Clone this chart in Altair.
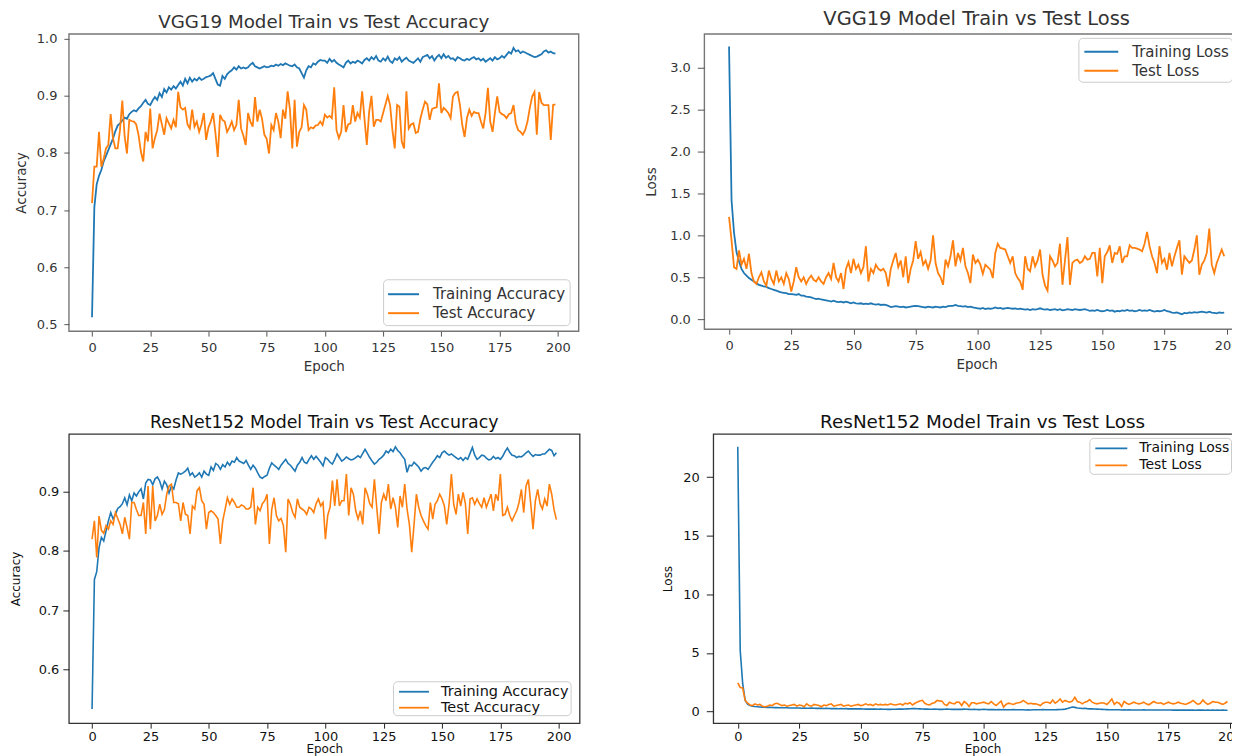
import altair as alt
import pandas as pd

epochs = list(range(200))

vgg_train_acc = [
    0.512, 0.705, 0.745, 0.760, 0.770, 0.785, 0.795, 0.805, 0.815, 0.825,
    0.838, 0.848, 0.852, 0.857, 0.862, 0.860, 0.868, 0.872, 0.875, 0.873,
    0.878, 0.882, 0.888, 0.893, 0.886, 0.884, 0.892, 0.898, 0.893, 0.905,
    0.898, 0.912, 0.906, 0.915, 0.911, 0.917, 0.913, 0.919, 0.925, 0.918,
    0.930, 0.922, 0.932, 0.925, 0.930, 0.927, 0.932, 0.928, 0.930, 0.933,
    0.934, 0.936, 0.940, 0.930, 0.920, 0.918, 0.935, 0.930, 0.938, 0.942,
    0.945, 0.950, 0.946, 0.952, 0.948, 0.950, 0.948, 0.950, 0.955, 0.958,
    0.952, 0.950, 0.948, 0.950, 0.952, 0.950, 0.951, 0.953, 0.952, 0.955,
    0.953, 0.956, 0.954, 0.957, 0.955, 0.953, 0.952, 0.955, 0.950, 0.948,
    0.940, 0.932, 0.945, 0.952, 0.950, 0.957, 0.955, 0.960, 0.963, 0.962,
    0.962, 0.958, 0.965, 0.960, 0.963, 0.958, 0.955, 0.953, 0.950, 0.958,
    0.962, 0.957, 0.960, 0.958, 0.962, 0.960, 0.957, 0.963, 0.966, 0.962,
    0.968, 0.964, 0.970, 0.962, 0.960, 0.966, 0.962, 0.969, 0.961, 0.958,
    0.966, 0.963, 0.968, 0.960, 0.964, 0.967, 0.962, 0.960, 0.958, 0.962,
    0.966, 0.960, 0.968, 0.970, 0.972, 0.966, 0.970, 0.962, 0.968, 0.972,
    0.966, 0.973, 0.967, 0.970, 0.965, 0.966, 0.962, 0.968, 0.966, 0.963,
    0.962, 0.965, 0.963, 0.966, 0.968, 0.964, 0.966, 0.962, 0.965, 0.960,
    0.963, 0.966, 0.962, 0.968, 0.964, 0.966, 0.970, 0.967, 0.972, 0.977,
    0.974, 0.984, 0.978, 0.980, 0.975, 0.978, 0.976, 0.974, 0.972, 0.970,
    0.968, 0.969, 0.971, 0.973, 0.978, 0.980, 0.976, 0.978, 0.975, 0.974,
]

vgg_test_acc = [
    0.712, 0.776, 0.776, 0.837, 0.776, 0.790, 0.808, 0.814, 0.868, 0.826,
    0.808, 0.808, 0.840, 0.892, 0.830, 0.799, 0.858, 0.856, 0.855, 0.850,
    0.831, 0.802, 0.785, 0.837, 0.820, 0.878, 0.808, 0.826, 0.840, 0.869,
    0.850, 0.832, 0.861, 0.852, 0.843, 0.858, 0.845, 0.907, 0.880, 0.876,
    0.879, 0.850, 0.843, 0.876, 0.846, 0.855, 0.837, 0.850, 0.870, 0.823,
    0.845, 0.855, 0.870, 0.835, 0.793, 0.867, 0.858, 0.855, 0.837, 0.845,
    0.855, 0.840, 0.849, 0.893, 0.843, 0.830, 0.814, 0.870, 0.855, 0.846,
    0.898, 0.855, 0.876, 0.860, 0.832, 0.825, 0.799, 0.849, 0.840, 0.870,
    0.855, 0.826, 0.876, 0.860, 0.908, 0.876, 0.808, 0.893, 0.811, 0.837,
    0.845, 0.884, 0.876, 0.840, 0.845, 0.843, 0.848, 0.849, 0.855, 0.849,
    0.867, 0.862, 0.865, 0.861, 0.915, 0.840, 0.826, 0.837, 0.884, 0.837,
    0.850, 0.852, 0.884, 0.855, 0.870, 0.862, 0.908, 0.860, 0.814, 0.872,
    0.900, 0.846, 0.858, 0.858, 0.855, 0.870, 0.885, 0.900, 0.884, 0.840,
    0.808, 0.884, 0.881, 0.820, 0.808, 0.908, 0.843, 0.850, 0.852, 0.835,
    0.837, 0.860, 0.876, 0.890, 0.885, 0.858, 0.877, 0.879, 0.880, 0.922,
    0.870, 0.879, 0.875, 0.870, 0.861, 0.899, 0.905, 0.907, 0.884, 0.849,
    0.828, 0.861, 0.876, 0.865, 0.872, 0.870, 0.870, 0.855, 0.843, 0.870,
    0.914, 0.855, 0.837, 0.870, 0.899, 0.872, 0.868, 0.866, 0.861, 0.868,
    0.870, 0.884, 0.852, 0.840, 0.837, 0.832, 0.840, 0.855, 0.879, 0.899,
    0.907, 0.832, 0.907, 0.888, 0.884, 0.884, 0.884, 0.823, 0.884, 0.885,
]

vgg_train_loss = [
    3.25, 1.42, 1.03, 0.80, 0.69, 0.60, 0.55, 0.52, 0.49, 0.47,
    0.45, 0.43, 0.41, 0.40, 0.39, 0.385, 0.37, 0.36, 0.35, 0.34,
    0.33, 0.32, 0.315, 0.31, 0.30, 0.30, 0.295, 0.29, 0.30, 0.28,
    0.28, 0.27, 0.265, 0.26, 0.25, 0.24, 0.245, 0.235, 0.23, 0.225,
    0.22, 0.21, 0.22, 0.21, 0.205, 0.21, 0.20, 0.21, 0.20, 0.19,
    0.20, 0.19, 0.185, 0.19, 0.18, 0.185, 0.18, 0.19, 0.18, 0.175,
    0.18, 0.17, 0.175, 0.17, 0.16, 0.145, 0.15, 0.155, 0.15, 0.145,
    0.15, 0.14, 0.145, 0.15, 0.155, 0.16, 0.155, 0.15, 0.145, 0.14,
    0.15, 0.145, 0.14, 0.15, 0.145, 0.14, 0.15, 0.145, 0.155, 0.16,
    0.16, 0.17, 0.16, 0.155, 0.15, 0.155, 0.145, 0.15, 0.14, 0.135,
    0.13, 0.125, 0.135, 0.12, 0.13, 0.125, 0.13, 0.14, 0.13, 0.135,
    0.125, 0.13, 0.135, 0.13, 0.125, 0.13, 0.12, 0.125, 0.12, 0.115,
    0.12, 0.11, 0.12, 0.115, 0.12, 0.13, 0.12, 0.115, 0.12, 0.11,
    0.115, 0.12, 0.11, 0.12, 0.105, 0.11, 0.12, 0.115, 0.11, 0.12,
    0.115, 0.11, 0.115, 0.12, 0.11, 0.10, 0.105, 0.10, 0.11, 0.10,
    0.095, 0.10, 0.11, 0.10, 0.105, 0.09, 0.10, 0.095, 0.105, 0.10,
    0.11, 0.10, 0.105, 0.095, 0.10, 0.11, 0.10, 0.105, 0.10, 0.11,
    0.10, 0.09, 0.10, 0.095, 0.10, 0.11, 0.095, 0.09, 0.08, 0.075,
    0.08, 0.07, 0.06, 0.075, 0.07, 0.08, 0.075, 0.085, 0.08, 0.085,
    0.09, 0.085, 0.08, 0.09, 0.08, 0.075, 0.07, 0.08, 0.075, 0.08,
]

vgg_test_loss = [
    1.22, 0.94, 0.62, 0.60, 0.82, 0.65, 0.72, 0.60, 0.78, 0.55,
    0.45, 0.42, 0.50, 0.56, 0.45, 0.40, 0.58, 0.48, 0.42, 0.58,
    0.45, 0.50, 0.42, 0.55, 0.48, 0.33, 0.45, 0.62, 0.50, 0.45,
    0.50, 0.42, 0.48, 0.52, 0.47, 0.45, 0.50, 0.45, 0.42, 0.50,
    0.55, 0.48, 0.67, 0.50, 0.45, 0.55, 0.36, 0.60, 0.68, 0.55,
    0.72, 0.60, 0.65, 0.55, 0.62, 0.87, 0.45, 0.60, 0.55, 0.65,
    0.60, 0.58, 0.60, 0.55, 0.39, 0.60, 0.70, 0.79, 0.62, 0.70,
    0.50, 0.75, 0.43, 0.60, 0.70, 0.93, 0.72, 0.80, 0.65, 0.70,
    0.60, 0.70, 1.00, 0.67, 0.55, 0.50, 0.41, 0.71, 0.63, 0.75,
    0.94, 0.63, 0.79, 0.70, 0.85, 0.63, 0.55, 0.43, 0.77, 0.67,
    0.71, 0.65, 0.54, 0.65, 0.62, 0.59, 0.49, 0.79, 0.90, 0.85,
    0.84, 0.83, 0.75, 0.67, 0.75, 0.55, 0.49, 0.45, 0.35, 0.75,
    0.60, 0.57, 0.75, 0.63, 0.70, 0.83, 0.53, 0.40, 0.34, 0.75,
    0.70, 0.63, 0.67, 0.90, 0.41, 0.70, 0.98, 0.41, 0.67, 0.70,
    0.71, 0.67, 0.69, 0.75, 0.71, 0.72, 0.79, 0.79, 0.51, 0.85,
    0.43, 0.75, 0.80, 0.88, 0.67, 0.79, 0.78, 0.87, 0.67, 0.75,
    0.75, 0.88, 0.85, 0.85, 0.84, 0.83, 0.81, 0.90, 1.04, 0.87,
    0.75, 0.67, 0.55, 0.87, 0.67, 0.72, 0.59, 0.79, 0.63, 0.75,
    0.85, 0.94, 0.53, 0.75, 0.71, 0.67, 0.70, 0.83, 1.00, 0.53,
    0.65, 0.70, 0.79, 1.08, 0.65, 0.55, 0.67, 0.75, 0.83, 0.75,
]

res_train_acc = [
    0.533, 0.752, 0.765, 0.806, 0.823, 0.817, 0.834, 0.851, 0.865, 0.854,
    0.862, 0.872, 0.875, 0.880, 0.890, 0.878, 0.895, 0.885, 0.898, 0.893,
    0.900, 0.905, 0.888, 0.915, 0.921, 0.920, 0.912, 0.922, 0.925, 0.918,
    0.905, 0.918, 0.912, 0.898, 0.910, 0.905, 0.920, 0.932, 0.930, 0.932,
    0.935, 0.940, 0.928, 0.932, 0.925, 0.928, 0.932, 0.925, 0.935, 0.930,
    0.928, 0.942, 0.936, 0.948, 0.945, 0.938, 0.946, 0.942, 0.950, 0.945,
    0.952, 0.950, 0.958, 0.952, 0.950, 0.948, 0.953, 0.945, 0.938, 0.945,
    0.940, 0.932, 0.925, 0.923, 0.926, 0.928, 0.940, 0.949, 0.945, 0.942,
    0.938, 0.945, 0.950, 0.955, 0.948, 0.945, 0.940, 0.935, 0.945, 0.950,
    0.958, 0.950, 0.948, 0.955, 0.961, 0.955, 0.960, 0.955, 0.950, 0.944,
    0.958, 0.955, 0.950, 0.947, 0.955, 0.964, 0.958, 0.952, 0.955, 0.959,
    0.956, 0.954, 0.955, 0.958, 0.961, 0.958, 0.965, 0.972, 0.965, 0.958,
    0.952, 0.947, 0.950, 0.955, 0.958, 0.962, 0.969, 0.966, 0.972, 0.968,
    0.976, 0.970, 0.966, 0.960, 0.955, 0.933, 0.945, 0.944, 0.950, 0.946,
    0.942, 0.935, 0.940, 0.941, 0.938, 0.944, 0.950, 0.955, 0.961, 0.958,
    0.966, 0.969, 0.965, 0.962, 0.964, 0.961, 0.958, 0.955, 0.958, 0.953,
    0.958, 0.955, 0.965, 0.975, 0.962, 0.955, 0.958, 0.962, 0.961, 0.957,
    0.954, 0.955, 0.960, 0.956, 0.958, 0.955, 0.960, 0.968, 0.974, 0.967,
    0.962, 0.961, 0.958, 0.960, 0.959, 0.962, 0.966, 0.969, 0.964, 0.960,
    0.963, 0.962, 0.962, 0.964, 0.964, 0.968, 0.972, 0.970, 0.961, 0.966,
]

res_test_acc = [
    0.820, 0.851, 0.789, 0.859, 0.835, 0.830, 0.843, 0.837, 0.851, 0.845,
    0.865, 0.855, 0.845, 0.829, 0.857, 0.840, 0.820, 0.882, 0.882, 0.870,
    0.860, 0.860, 0.882, 0.829, 0.910, 0.837, 0.910, 0.851, 0.860, 0.879,
    0.862, 0.870, 0.896, 0.910, 0.913, 0.882, 0.882, 0.880, 0.851, 0.882,
    0.862, 0.860, 0.829, 0.876, 0.871, 0.902, 0.907, 0.885, 0.879, 0.837,
    0.865, 0.868, 0.865, 0.860, 0.854, 0.812, 0.851, 0.870, 0.890, 0.879,
    0.888, 0.882, 0.874, 0.874, 0.878, 0.876, 0.871, 0.871, 0.874, 0.907,
    0.845, 0.874, 0.868, 0.880, 0.885, 0.896, 0.812, 0.870, 0.890, 0.860,
    0.851, 0.855, 0.843, 0.798, 0.888, 0.879, 0.865, 0.857, 0.888, 0.874,
    0.871, 0.868, 0.862, 0.874, 0.871, 0.865, 0.880, 0.888, 0.876, 0.882,
    0.820, 0.860, 0.874, 0.919, 0.876, 0.921, 0.876, 0.885, 0.885, 0.930,
    0.860, 0.907, 0.896, 0.868, 0.854, 0.868, 0.845, 0.907, 0.896, 0.880,
    0.874, 0.921, 0.874, 0.829, 0.882, 0.896, 0.885, 0.913, 0.871, 0.890,
    0.874, 0.840, 0.893, 0.874, 0.913, 0.871, 0.845, 0.798, 0.845, 0.896,
    0.874, 0.860, 0.851, 0.843, 0.837, 0.882, 0.854, 0.879, 0.885, 0.896,
    0.888, 0.876, 0.845, 0.879, 0.930, 0.879, 0.862, 0.896, 0.876, 0.899,
    0.880, 0.829, 0.888, 0.890, 0.879, 0.888, 0.880, 0.874, 0.890, 0.874,
    0.885, 0.896, 0.868, 0.896, 0.885, 0.930, 0.860, 0.862, 0.874, 0.860,
    0.851, 0.860, 0.868, 0.882, 0.904, 0.865, 0.910, 0.921, 0.880, 0.837,
    0.885, 0.904, 0.880, 0.871, 0.888, 0.876, 0.913, 0.896, 0.870, 0.853,
]

res_train_loss = [
    22.6, 5.2, 2.4, 0.95, 0.62, 0.50, 0.45, 0.42, 0.40, 0.38,
    0.37, 0.36, 0.35, 0.35, 0.34, 0.33, 0.33, 0.32, 0.32, 0.31,
    0.31, 0.30, 0.30, 0.29, 0.30, 0.29, 0.28, 0.29, 0.28, 0.27,
    0.28, 0.27, 0.26, 0.27, 0.26, 0.25, 0.26, 0.25, 0.24, 0.25,
    0.24, 0.23, 0.24, 0.23, 0.24, 0.22, 0.23, 0.22, 0.23, 0.22,
    0.22, 0.21, 0.20, 0.21, 0.20, 0.21, 0.20, 0.19, 0.20, 0.19,
    0.19, 0.18, 0.18, 0.19, 0.19, 0.20, 0.21, 0.20, 0.21, 0.22,
    0.23, 0.24, 0.24, 0.23, 0.22, 0.21, 0.20, 0.20, 0.19, 0.19,
    0.20, 0.19, 0.18, 0.18, 0.19, 0.20, 0.19, 0.18, 0.19, 0.18,
    0.19, 0.18, 0.20, 0.19, 0.18, 0.17, 0.18, 0.17, 0.16, 0.17,
    0.18, 0.17, 0.16, 0.17, 0.16, 0.15, 0.16, 0.15, 0.16, 0.15,
    0.14, 0.15, 0.16, 0.15, 0.14, 0.15, 0.14, 0.13, 0.14, 0.13,
    0.14, 0.15, 0.14, 0.15, 0.16, 0.15, 0.14, 0.15, 0.14, 0.15,
    0.16, 0.17, 0.18, 0.20, 0.25, 0.32, 0.38, 0.35, 0.30, 0.28,
    0.25, 0.27, 0.24, 0.22, 0.23, 0.21, 0.20, 0.19, 0.18, 0.17,
    0.16, 0.15, 0.15, 0.14, 0.15, 0.14, 0.13, 0.14, 0.13, 0.14,
    0.13, 0.12, 0.13, 0.12, 0.13, 0.14, 0.13, 0.12, 0.13, 0.12,
    0.13, 0.12, 0.13, 0.12, 0.12, 0.13, 0.12, 0.11, 0.12, 0.11,
    0.12, 0.11, 0.12, 0.11, 0.12, 0.11, 0.10, 0.11, 0.12, 0.11,
    0.10, 0.11, 0.10, 0.11, 0.10, 0.11, 0.10, 0.11, 0.10, 0.10,
]

res_test_loss = [
    2.45, 2.05, 2.00, 0.95, 0.70, 0.55, 0.50, 0.65, 0.55, 0.60,
    0.45, 0.40, 0.45, 0.55, 0.50, 0.65, 0.70, 0.60, 0.50, 0.55,
    0.45, 0.50, 0.55, 0.60, 0.45, 0.55, 0.50, 0.40, 0.65, 0.50,
    0.45, 0.60, 0.55, 0.50, 0.40, 0.55, 0.50, 0.60, 0.65, 0.45,
    0.50, 0.55, 0.60, 0.45, 0.50, 0.55, 0.45, 0.50, 0.55, 0.60,
    0.50, 0.55, 0.65, 0.55, 0.60, 0.50, 0.65, 0.55, 0.60, 0.55,
    0.60, 0.55, 0.65, 0.60, 0.55, 0.60, 0.65, 0.55, 0.70, 0.65,
    0.75, 0.55, 0.70, 0.80, 0.90, 0.95, 0.70, 0.60, 0.55, 0.70,
    0.75, 0.94, 0.90, 0.88, 0.60, 0.51, 0.79, 0.70, 0.65, 0.80,
    0.79, 0.51, 0.85, 0.70, 0.43, 0.74, 0.74, 0.65, 0.70, 0.75,
    0.79, 0.70, 0.65, 0.85, 0.65, 0.51, 0.70, 0.88, 0.37, 0.60,
    0.71, 0.65, 0.60, 0.70, 0.75, 0.79, 0.94, 0.80, 0.65, 0.70,
    0.65, 0.65, 0.60, 0.51, 0.70, 0.79, 0.79, 0.70, 0.97, 0.71,
    0.85, 1.06, 0.79, 0.94, 0.85, 0.79, 0.90, 1.21, 0.85, 0.79,
    0.65, 0.79, 0.85, 1.01, 0.79, 0.70, 0.65, 0.70, 0.74, 0.70,
    0.60, 0.80, 1.06, 0.60, 0.79, 0.70, 0.43, 0.85, 0.70, 0.60,
    0.70, 0.79, 0.70, 0.65, 0.70, 0.79, 0.65, 0.57, 0.70, 0.85,
    0.75, 0.70, 0.74, 0.60, 0.70, 0.79, 0.70, 0.65, 0.70, 0.79,
    0.70, 0.65, 0.60, 0.70, 0.79, 0.94, 0.75, 0.60, 0.70, 0.97,
    0.75, 0.60, 0.70, 0.85, 0.80, 0.79, 0.70, 0.60, 0.70, 0.85,
]

for arr in [vgg_train_acc, vgg_test_acc, vgg_train_loss, vgg_test_loss,
            res_train_acc, res_test_acc, res_train_loss, res_test_loss]:
    assert len(arr) == 200, len(arr)

x_ticks = [0, 25, 50, 75, 100, 125, 150, 175, 200]
BLUE = "#1f77b4"
ORANGE = "#ff7f0e"
FONT = "DejaVu Sans"
X_DOMAIN = [-9.95, 208.95]

VGG = dict(tick=5, tickc="#555", lab=13, ttl=13.5,
           txt="#333", frame="#777", fw=1.4, lw=1.8, xlp=5, xtp=5.5)
RES = dict(tick=5, tickc="#222", lab=13, ttl=12,
           txt="#111", frame="#333", fw=1.3, lw=1.6, xlp=2, xtp=0)


def panel(train, test, names, title, ytitle, ydomain, yvalues, yformat,
          width, height, leg, s, ylp, ytp, ytick, title_off, title_size):
    df = pd.DataFrame({
        "Epoch": epochs + epochs,
        "value": train + test,
        "series": [names[0]] * len(train) + [names[1]] * len(test),
    })
    legend = alt.Legend(
        orient="none", legendX=leg["x"], legendY=leg["y"], title=None,
        direction="vertical", symbolType=leg["path"], symbolSize=leg["size"],
        symbolStrokeWidth=s["lw"] + 0.2, labelOffset=leg["off"],
        labelFont=FONT, labelFontSize=leg["font"], labelColor=s["txt"],
        padding=leg["pad"], rowPadding=0, strokeColor="#cccccc",
        fillColor="rgba(255,255,255,0.85)", cornerRadius=4, labelLimit=300,
    )
    color = alt.Color("series:N", scale=alt.Scale(domain=names, range=[BLUE, ORANGE]),
                      legend=legend)
    x = alt.X("Epoch:Q", scale=alt.Scale(domain=X_DOMAIN, nice=False, zero=False),
              axis=alt.Axis(title="Epoch", values=x_ticks, format="d", grid=False,
                            domain=False, tickSize=s["tick"], tickColor=s["tickc"],
                            tickWidth=1, labelFont=FONT, labelFontSize=s["lab"],
                            labelColor=s["txt"], labelPadding=s["xlp"],
                            labelOverlap=False, labelFlush=False, titleFont=FONT,
                            titleFontSize=s["ttl"], titleColor=s["txt"],
                            titleFontWeight="normal", titlePadding=s["xtp"]))
    y = alt.Y("value:Q", scale=alt.Scale(domain=ydomain, nice=False, zero=False),
              axis=alt.Axis(title=ytitle, values=yvalues, format=yformat, grid=False,
                            domain=False, tickSize=ytick, tickColor=s["tickc"],
                            tickWidth=1, labelFont=FONT, labelFontSize=s["lab"],
                            labelColor=s["txt"], labelPadding=ylp, labelOverlap=False,
                            labelFlush=False, titleFont=FONT, titleFontSize=s["ttl"],
                            titleColor=s["txt"], titleFontWeight="normal",
                            titlePadding=ytp))
    base = alt.Chart(df).encode(x=x, y=y, color=color)
    train_line = base.transform_filter(alt.datum.series == names[0]).mark_line(
        strokeWidth=s["lw"], clip=True)
    test_line = base.transform_filter(alt.datum.series == names[1]).mark_line(
        strokeWidth=s["lw"], clip=True)
    return alt.layer(train_line, test_line).properties(
        width=width, height=height,
        title=alt.TitleParams(text=title, font=FONT, fontSize=title_size,
                              fontWeight="normal", color=s["txt"], anchor="middle",
                              offset=title_off),
        view=alt.ViewBackground(stroke=s["frame"], strokeWidth=s["fw"], fill="white"),
    )


p1 = panel(vgg_train_acc, vgg_test_acc, ["Training Accuracy", "Test Accuracy"],
           "VGG19 Model Train vs Test Accuracy", "Accuracy", [0.4877, 1.0088],
           [0.5, 0.6, 0.7, 0.8, 0.9, 1.0], ".1f", 511, 298,
           dict(x=315, y=246, path="M-1,0H2.1", size=400, off=24, pad=4, font=15),
           VGG, ylp=7, ytp=8, ytick=5, title_off=1, title_size=18.3)

p2 = panel(vgg_train_loss, vgg_test_loss, ["Training Loss", "Test Loss"],
           "VGG19 Model Train vs Test Loss", "Loss", [-0.118, 3.40],
           [0.0, 0.5, 1.0, 1.5, 2.0, 2.5, 3.0], ".1f", 546, 296,
           dict(x=375, y=4, path="M-0.8,0H2.6", size=400, off=29, pad=3, font=15),
           VGG, ylp=7, ytp=11.5, ytick=7, title_off=4.5, title_size=19.5)

p3 = panel(res_train_acc, res_test_acc, ["Training Accuracy", "Test Accuracy"],
           "ResNet152 Model Train vs Test Accuracy", "Accuracy", [0.509, 0.998],
           [0.6, 0.7, 0.8, 0.9], ".1f", 512, 290,
           dict(x=325, y=248, path="M-0.53,0H3.0", size=289, off=28, pad=1, font=14.5),
           RES, ylp=4, ytp=16, ytick=6, title_off=2, title_size=17.4)

p4 = panel(res_train_loss, res_test_loss, ["Training Loss", "Test Loss"],
           "ResNet152 Model Train vs Test Loss", "Loss", [-1.0, 23.7],
           [0, 5, 10, 15, 20], "d", 540, 290,
           dict(x=377, y=4, path="M-0.53,0H3.24", size=289, off=30, pad=1, font=14),
           RES, ylp=7, ytp=8, ytick=7, title_off=2, title_size=18.4)

top = alt.concat(p1, p2, columns=2, spacing=64, align="none").resolve_scale(
    color="independent").resolve_legend(color="independent")
bottom = alt.concat(p3, p4, columns=2, spacing=80, align="none").resolve_scale(
    color="independent").resolve_legend(color="independent")

chart = alt.concat(top, bottom, columns=1, spacing=38, align="none").resolve_scale(
    color="independent").resolve_legend(color="independent").properties(
    padding={"left": 0, "top": -1, "right": -21, "bottom": 0},
    background="white",
).configure(font=FONT)

chart.save("out.html", embed_options={"renderer": "svg", "actions": False})
